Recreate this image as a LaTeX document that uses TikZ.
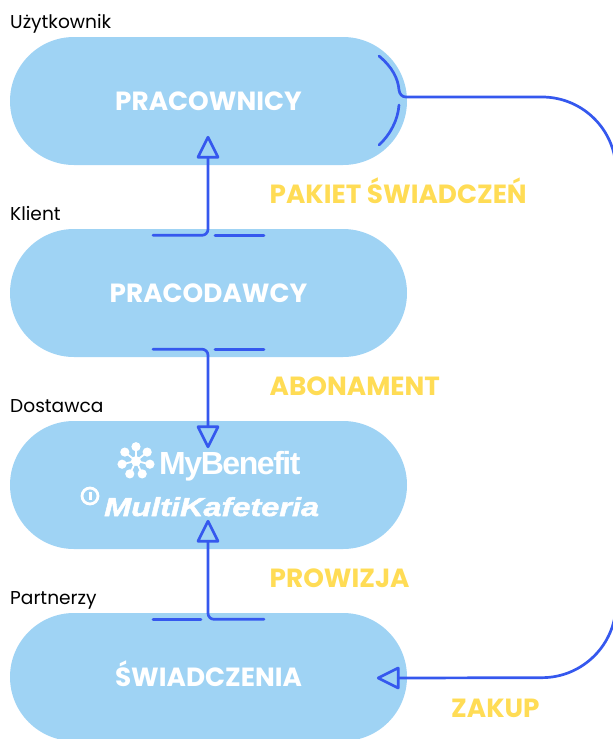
\documentclass[tikz,border=0pt]{standalone}
\usepackage{fontspec}
\setmainfont{Poppins}
\newfontfamily\logofontb[LetterSpace=-4.5]{Liberation Sans Bold}
\newfontfamily\logofontc[FakeStretch=1.25,FakeBold=2]{Liberation Sans Bold Italic}
\usetikzlibrary{calc,shapes.misc}
\definecolor{pillblue}{HTML}{9FD3F4}
\definecolor{lineblue}{HTML}{3558EE}
\definecolor{labelyellow}{HTML}{FFDC55}
\tikzset{
  pill/.style={draw=none,fill=pillblue,rounded rectangle,minimum width=397pt,minimum height=128pt,inner sep=0pt,text=white,text height=18pt,text depth=0pt,font=\fontsize{26.3}{28}\selectfont\bfseries},
  role/.style={anchor=base west,inner sep=0pt,font=\fontsize{18.6}{20}\selectfont},
  flow/.style={anchor=base west,inner sep=0pt,text=labelyellow,font=\fontsize{26.3}{28}\selectfont\bfseries},
  conn/.style={draw=lineblue,line width=2.7pt,line cap=round,line join=round},
  head/.style={draw=lineblue,line width=2.7pt,line join=round}
}
\begin{document}
\begin{tikzpicture}[x=1pt,y=-1pt]
\useasboundingbox (0,0) rectangle (613,739);
\clip (0,0) rectangle (613,739);
\node[pill] (prac) at (208.5,101) {PRACOWNICY};
\node[pill] (klient) at (208.5,293) {PRACODAWCY};
\node[pill] (dost) at (208.5,485) {};
\node[pill] (swiad) at (208.5,677) {ŚWIADCZENIA};
\node[role] (l1) at (10,28) {Użytkownik};
\node[role] (l2) at (10,220) {Klient};
\node[role] (l3) at (10,412) {Dostawca};
\node[role] (l4) at (10,604) {Partnerzy};
\node[flow] (f1) at (269.5,203) {PAKIET ŚWIADCZEŃ};
\node[flow] (f2) at (269.5,395) {ABONAMENT};
\node[flow] (f3) at (269.5,587) {PROWIZJA};
\node[flow] (f4) at (451,717) {ZAKUP};
% logo
\foreach \a in {-90,-38.57,...,230}{
  \fill[white] (136,461) ++(\a:14.3) circle[radius=4.6];
  \draw[white,line width=1.8pt] (136,461) -- ++(\a:13);
}
\fill[white] (136,461) circle[radius=5];
\node[inner sep=0pt,anchor=base west,text=white,font=\logofontb\fontsize{32}{36}\selectfont] (mb) at (159,474) {MyBenefit};
\node[inner sep=0pt,anchor=base west,text=white,font=\logofontc\fontsize{26}{30}\selectfont] (mk) at (104,516) {MultiKafeteria};
\draw[white,line width=2.8pt] (90,496) circle[radius=8];
\fill[white] (88.7,491.5) rectangle (91.7,500);
% connectors
\coordinate (a1tip) at ($(prac.south)+(-0.5,-28)$);
\coordinate (a1base) at ($(a1tip)+(0,20)$);
\coordinate (k1) at ($(klient.north)+(-0.5,6.5)$);
\draw[conn,rounded corners=6pt] ($(k1)+(-55,0)$) -- (k1) -- (a1base);
\draw[conn] ($(k1)+(7,0)$) -- ++(49,0);
\draw[head] (a1tip) -- ++(10,20) -- ++(-20,0) -- cycle;
\coordinate (k2) at ($(klient.south)+(-0.5,-8)$);
\coordinate (a2tip) at ($(dost.north)+(-0.5,26)$);
\coordinate (a2base) at ($(a2tip)+(0,-20)$);
\draw[conn,rounded corners=6pt] ($(k2)+(-55,0)$) -- (k2) -- (a2base);
\draw[conn] ($(k2)+(7,0)$) -- ++(49,0);
\draw[head] (a2tip) -- ++(10,-20) -- ++(-20,0) -- cycle;
\coordinate (a3tip) at ($(dost.south)+(-0.5,-28)$);
\coordinate (a3base) at ($(a3tip)+(0,20)$);
\coordinate (s1) at ($(swiad.north)+(-0.5,6.5)$);
\draw[conn] ($(s1)+(-55,0)$) -- ($(s1)+(-7,0)$);
\draw[conn,rounded corners=6pt] ($(s1)+(56,0)$) -- (s1) -- (a3base);
\draw[head] (a3tip) -- ++(10,20) -- ++(-20,0) -- cycle;
% right connector
\coordinate (ptip) at ($(swiad.east)+(-29,1)$);
\coordinate (pbase) at ($(ptip)+(20,0)$);
\draw[conn] (379,56) .. controls (392,67) and (398,78) .. (399,90) .. controls (399.5,94) and (402,97) .. (406,97) [rounded corners=74pt] -- (616,97) -- (616,677.5) -- (pbase);
\draw[conn] (399,105) .. controls (398,120) and (390,135) .. (379,145);
\draw[head] (ptip) -- ++(20,-10) -- ++(0,20) -- cycle;
\end{tikzpicture}
\end{document}
